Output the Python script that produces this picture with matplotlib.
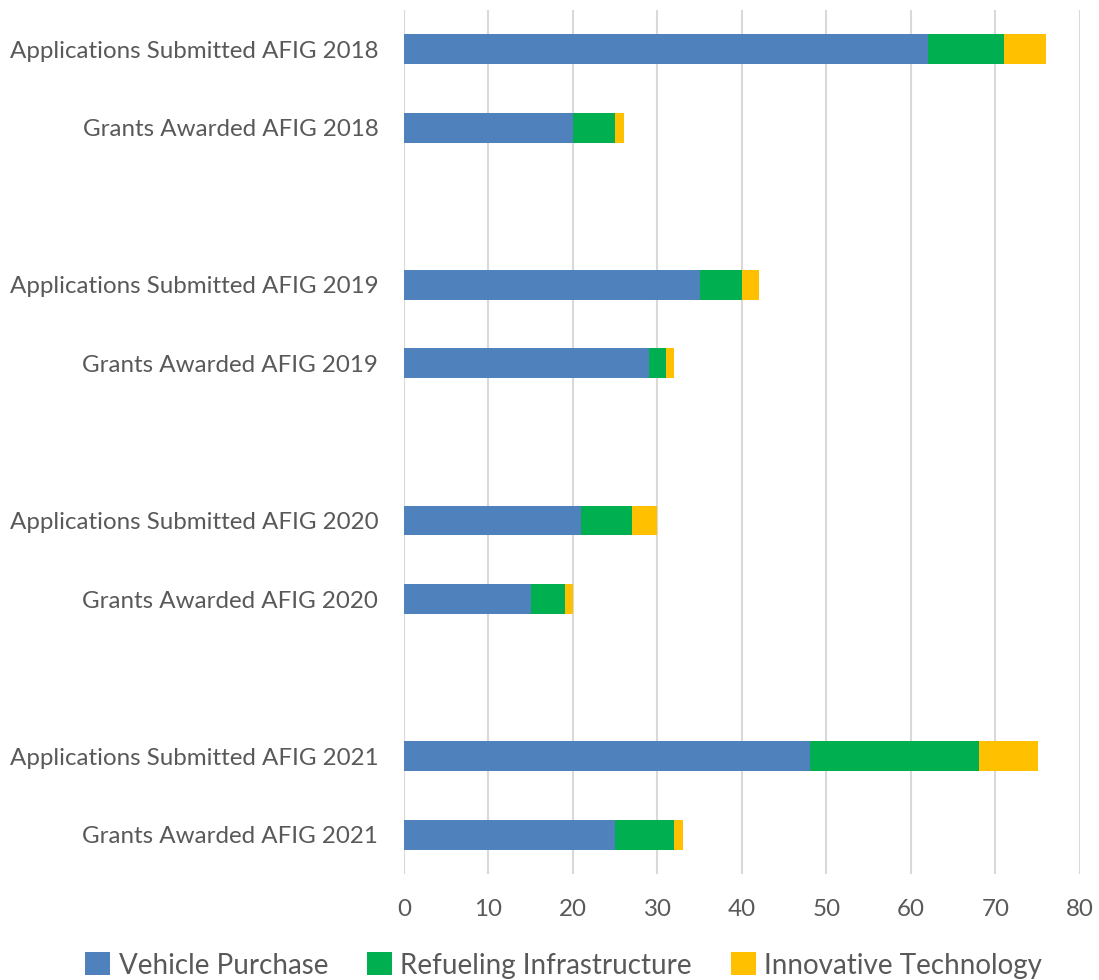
import matplotlib
matplotlib.use('Agg')
import numpy as np
import matplotlib.pyplot as plt

# categories, top to bottom (empty strings are the gaps between years)
categories = ['Applications Submitted AFIG 2018', 'Grants Awarded AFIG 2018', '',
              'Applications Submitted AFIG 2019', 'Grants Awarded AFIG 2019', '',
              'Applications Submitted AFIG 2020', 'Grants Awarded AFIG 2020', '',
              'Applications Submitted AFIG 2021', 'Grants Awarded AFIG 2021']
vehicle = [62, 20, 0, 35, 29, 0, 21, 15, 0, 48, 25]
refueling = [9, 5, 0, 5, 2, 0, 6, 4, 0, 20, 7]
innovative = [5, 1, 0, 2, 1, 0, 3, 1, 0, 7, 1]
series_names = ['Vehicle Purchase', 'Refueling Infrastructure', 'Innovative Technology']
colors = ['#4F81BD', '#00B050', '#FFC000']
xticks = [0, 10, 20, 30, 40, 50, 60, 70, 80]

plt.rcParams['font.family'] = ['Lato', 'DejaVu Sans']
fig = plt.figure(figsize=(10.99, 9.8), dpi=100)
ax = fig.add_axes([0.3676, 0.108, 0.6151, 0.882])

y = np.arange(len(categories))[::-1]
left = np.zeros(len(categories))
for vals, name, c in zip([vehicle, refueling, innovative], series_names, colors):
    vals = np.array(vals, dtype=float)
    ax.barh(y, vals, left=left, height=0.38, color=c, label=name, zorder=3)
    left += vals

ax.set_yticks(y)
ax.set_yticklabels(categories)
ax.set_ylim(-0.5, len(categories) - 0.5)
ax.set_xlim(0, 80)
ax.set_xticks(xticks)
ax.xaxis.grid(True, color='#D9D9D9', linewidth=1.5, zorder=0)
ax.set_axisbelow(True)
for s in ['top', 'right', 'bottom', 'left']:
    ax.spines[s].set_visible(False)
ax.tick_params(axis='both', length=0, colors='#595959', labelsize=17.4)
ax.tick_params(axis='y', pad=18.5)
ax.tick_params(axis='x', pad=18)

fig.legend(loc='lower center', bbox_to_anchor=(0.513, -0.024), ncol=3, frameon=False,
           fontsize=20, labelcolor='#595959', handlelength=0.9, handleheight=0.9,
           handletextpad=0.3, columnspacing=1.4)

plt.savefig('out.png', dpi=100, facecolor='w')
